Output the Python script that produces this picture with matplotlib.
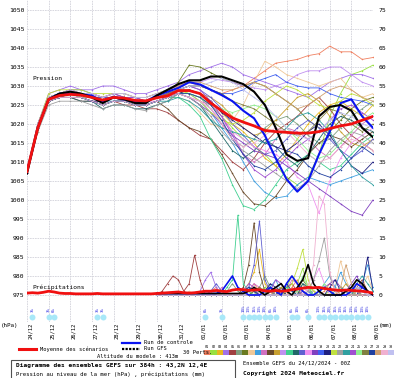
import matplotlib
matplotlib.use("Agg")
import matplotlib.pyplot as plt
from matplotlib.lines import Line2D
from matplotlib.patches import Rectangle
import numpy as np

# time axes (hours since 24/12/2024 00Z)
hours_p = list(range(0, 385, 12))
hours_6h = list(range(0, 385, 6))
hours_rr = list(range(144, 385, 6))

dates = ["24/12", "25/12", "26/12", "27/12", "28/12", "29/12", "30/12", "31/12", "01/01",
         "02/01", "03/01", "04/01", "05/01", "06/01", "07/01", "08/01", "09/01"]

# sea level pressure (hPa)
mean_pres = [1007.5, 1019, 1026.5, 1027.5, 1027.8, 1027.6, 1027, 1026.3, 1027, 1026.8, 1026.2,
             1026.1, 1026.9, 1027.4, 1028.8, 1028.8, 1028, 1025.5, 1023.5, 1021.6, 1020.5, 1019.5,
             1018.3, 1018, 1017.8, 1017.6, 1017.6, 1018, 1018.8, 1019.5, 1020, 1021, 1022]
ctrl_pres = [1007.5, 1019, 1026.5, 1028, 1028, 1027.8, 1027.5, 1026, 1027.2, 1026.5, 1026, 1026,
             1027.5, 1028.5, 1029.5, 1031, 1030.4, 1029, 1027.6, 1026, 1023.5, 1021.5, 1017, 1011,
             1005.5, 1002.2, 1005, 1012, 1018, 1025.5, 1026.5, 1022, 1019]
gfs_pres = [1007, 1019, 1026.5, 1028, 1028.5, 1028, 1027, 1025.5, 1027, 1026.5, 1025.5, 1025.5,
            1027.5, 1029, 1030.5, 1031.5, 1031.5, 1032.5, 1032.5, 1031.5, 1030.5, 1028.5, 1025,
            1019, 1012, 1010.3, 1011, 1022, 1024.5, 1025, 1023.5, 1019, 1016.5]

member_pres = [
    [1008, 1020, 1027, 1028, 1029, 1028, 1028, 1027, 1028, 1027, 1027, 1026, 1027, 1028, 1030, 1031, 1030, 1029, 1028, 1029, 1030, 1032, 1034, 1036, 1036.5, 1037, 1038, 1038.5, 1040.5, 1039, 1039, 1037, 1037.5],
    [1007, 1019, 1027, 1028, 1028, 1028, 1027, 1026, 1027, 1027, 1026, 1026, 1027, 1028, 1029, 1028, 1027, 1025, 1022, 1019, 1016, 1014, 1012, 1009, 1006, 1004, 1006, 1012, 1022, 1028, 1033, 1034, 1035.5],
    [1008, 1018, 1026, 1027, 1027, 1027, 1026, 1025, 1026, 1026, 1025, 1025, 1026, 1027, 1028, 1029, 1028, 1026, 1023, 1020, 1018, 1015, 1011, 1009, 1012, 1016, 1020, 1023, 1025, 1026, 1024, 1022, 1025],
    [1007, 1020, 1028, 1029, 1030, 1029, 1029, 1030, 1030, 1029, 1028, 1028, 1029, 1030, 1031, 1033, 1034, 1035, 1036, 1035, 1033, 1032, 1031, 1030, 1029, 1028, 1027, 1029, 1031, 1032, 1033, 1033, 1032],
    [1008, 1019, 1026, 1027, 1027, 1026, 1026, 1025, 1026, 1025, 1025, 1024, 1024, 1023, 1021, 1019, 1017, 1016, 1013, 1010, 1008, 1011, 1015, 1018, 1020, 1022, 1025, 1027, 1024, 1020, 1017, 1015, 1013],
    [1007, 1019, 1026, 1027, 1028, 1027, 1027, 1026, 1027, 1027, 1026, 1026, 1027, 1027, 1028, 1028, 1027, 1024, 1020, 1016, 1014, 1016, 1019, 1021, 1022, 1020, 1017, 1015, 1016, 1019, 1022, 1024, 1026],
    [1008, 1019, 1027, 1028, 1028, 1028, 1027, 1027, 1027, 1027, 1026, 1026, 1027, 1028, 1031, 1035.5, 1035, 1033.5, 1032, 1031, 1030, 1031, 1030, 1028, 1026, 1024, 1021, 1019, 1018, 1021, 1024, 1026, 1027],
    [1008, 1020, 1027, 1028, 1028, 1027, 1027, 1026, 1027, 1027, 1026, 1026, 1027, 1027, 1027, 1026, 1023, 1020, 1019, 1021, 1025, 1031, 1036.5, 1035, 1033, 1032, 1031, 1030, 1031, 1032, 1029, 1027, 1028],
    [1007, 1019, 1026, 1027, 1028, 1027, 1027, 1026, 1026, 1026, 1026, 1025, 1026, 1027, 1028, 1028, 1026, 1023, 1019, 1015, 1010, 1005, 1002, 1000.5, 1001, 1004, 1006, 1005, 1004, 1005, 1006, 1007, 1008],
    [1008, 1019, 1027, 1028, 1028, 1028, 1027, 1026, 1027, 1027, 1026, 1026, 1027, 1028, 1028, 1027, 1026, 1025, 1022, 1018, 1012, 1010, 1012, 1016, 1019, 1018, 1016, 1013, 1011, 1014, 1017, 1020, 1022],
    [1008, 1019, 1026, 1027, 1027, 1027, 1026, 1026, 1027, 1026, 1025, 1025, 1026, 1024, 1021, 1019, 1018, 1016, 1012, 1007, 1002, 999, 998.5, 1001, 1005, 1008, 1012, 1015, 1017, 1016, 1014, 1016, 1018],
    [1008, 1020, 1027, 1028, 1028, 1028, 1027, 1026, 1027, 1027, 1026, 1026, 1027, 1028, 1029, 1029, 1028, 1027, 1025, 1022, 1019, 1017, 1018, 1021, 1024, 1027, 1028, 1026, 1022, 1018, 1015, 1014, 1016],
    [1007, 1020, 1027, 1028, 1029, 1028, 1028, 1027, 1028, 1028, 1027, 1027, 1028, 1029, 1030, 1031, 1031, 1032, 1031.5, 1031, 1030, 1029.5, 1029, 1030, 1031, 1033, 1034, 1034, 1035, 1035, 1033, 1031, 1030],
    [1007, 1019, 1026, 1027, 1027, 1027, 1026, 1025, 1026, 1026, 1025, 1025, 1026, 1027, 1027, 1025, 1022, 1016, 1011, 1004, 998.5, 997.5, 1000, 1004, 1008, 1010, 1012, 1010, 1008, 1009, 1012, 1015, 1017],
    [1008, 1019, 1026, 1027, 1027, 1026, 1026, 1024, 1025, 1025, 1024, 1024, 1025, 1026, 1028, 1027, 1025, 1021, 1017, 1013, 1011, 1013, 1016, 1014, 1011, 1009, 1012, 1016, 1020, 1022, 1021, 1019, 1018],
    [1007, 1020, 1027, 1028, 1029, 1029, 1028, 1027, 1028, 1027, 1027, 1026, 1027, 1028, 1029, 1030, 1029, 1027, 1024, 1020, 1017, 1014, 1012, 1013, 1016, 1019, 1021, 1019, 1016, 1013, 1011, 1013, 1016],
    [1008, 1019, 1027, 1028, 1028, 1027, 1027, 1026, 1027, 1027, 1026, 1026, 1026, 1027, 1028, 1027, 1026, 1024, 1021, 1018, 1016, 1014, 1013, 1012, 1010, 1006, 1004, 996.5, 1005, 1011, 1015, 1017, 1019],
    [1007, 1019, 1026, 1027, 1028, 1027, 1026, 1026, 1027, 1026, 1026, 1025, 1026, 1027, 1028, 1027, 1025, 1023, 1020, 1017, 1015, 1013, 1012, 1011, 1009, 1007, 1005, 1003, 1001, 999, 997, 996, 1000],
    [1008, 1020, 1027, 1028, 1028, 1028, 1027, 1027, 1027, 1027, 1026, 1026, 1027, 1028, 1029, 1030, 1030, 1029, 1028, 1028, 1029, 1031, 1032, 1033, 1031, 1030, 1029.5, 1029.5, 1028, 1027, 1026.5, 1026, 1025],
    [1007, 1019, 1026, 1027, 1027, 1027, 1026, 1025, 1026, 1026, 1025, 1025, 1026, 1027, 1028, 1029, 1028, 1026, 1023, 1021, 1019, 1017, 1015, 1014, 1013, 1015, 1018, 1020, 1017, 1013, 1009, 1007, 1010],
    [1008, 1020, 1028, 1029, 1029, 1029, 1028, 1028, 1028, 1028, 1027, 1027, 1028, 1029, 1029, 1028, 1026, 1023, 1021, 1020, 1021, 1023, 1026, 1028, 1030, 1029, 1027, 1025, 1024, 1026, 1028, 1027, 1025],
    [1007, 1018, 1025, 1026, 1026, 1026, 1025, 1024, 1025, 1025, 1024, 1023.5, 1025, 1026, 1028, 1027, 1025, 1022, 1018, 1015, 1013, 1011, 1009, 1007, 1005, 1003, 1005, 1009, 1013, 1016, 1018, 1017, 1015],
    [1008, 1019, 1026, 1027, 1027, 1027, 1026, 1025, 1026, 1026, 1025, 1025, 1026, 1026, 1027, 1026, 1024, 1021, 1019, 1018, 1017, 1016, 1015, 1016, 1019, 1022, 1023, 1021, 1018, 1013, 1009, 1006, 1004],
    [1007, 1020, 1027, 1028, 1029, 1028, 1028, 1027, 1028, 1027, 1027, 1026, 1027, 1028, 1029, 1030, 1029, 1026, 1022, 1017, 1012, 1008, 1006, 1008, 1011, 1014, 1016, 1018, 1021, 1024, 1025, 1023, 1021],
    [1008, 1019, 1027, 1028, 1028, 1027, 1027, 1026, 1027, 1027, 1026, 1026, 1027, 1027, 1028, 1028, 1027, 1025, 1024, 1023, 1024, 1025, 1024, 1022, 1019, 1016, 1013, 1011, 1012, 1015, 1018, 1021, 1023],
    [1007, 1019, 1026, 1027, 1028, 1028, 1027, 1026, 1027, 1027, 1026, 1026, 1027, 1028, 1029, 1030, 1030, 1029, 1028, 1026, 1025, 1024, 1022, 1020, 1018, 1017, 1018, 1021, 1024, 1023, 1020, 1018, 1020],
    [1008, 1019, 1026, 1027, 1027, 1027, 1026, 1025, 1026, 1026, 1025, 1025, 1026, 1027, 1028, 1028, 1027, 1025, 1021, 1016, 1012, 1009, 1008, 1010, 1013, 1012, 1009, 1007, 1006, 1008, 1011, 1014, 1012],
    [1008, 1020, 1027, 1028, 1029, 1028, 1028, 1027, 1028, 1028, 1027, 1027, 1028, 1029, 1030, 1031, 1031, 1030, 1029, 1029, 1030, 1031, 1030, 1028, 1026, 1024, 1025, 1027, 1029, 1030, 1029, 1027, 1026],
    [1007, 1019, 1026, 1027, 1027, 1027, 1026, 1025, 1026, 1026, 1025, 1025, 1026, 1027, 1028, 1027, 1026, 1024, 1020, 1016, 1014, 1015, 1017, 1019, 1018, 1015, 1012, 1010, 1011, 1014, 1016, 1015, 1013],
    [1008, 1020, 1027, 1028, 1029, 1028, 1028, 1027, 1028, 1028, 1027, 1027, 1028, 1029, 1029, 1030, 1030, 1031, 1032, 1031, 1029, 1027, 1025, 1022, 1019, 1017, 1016, 1018, 1021, 1023, 1022, 1020, 1019],
]

# precipitation (mm per 6h)
mean_precip = [0.5, 0.6, 0.5, 0.7, 1.0, 0.8, 0.5, 0.4,
               0.4, 0.3, 0.3, 0.3, 0.3, 0.4, 0.3, 0.3,
               0.3, 0.3, 0.3, 0.3, 0.3, 0.3, 0.3, 0.3,
               0.4, 0.5, 0.6, 0.7, 0.8, 0.6, 0.5, 0.6,
               0.8, 1.0, 1.0, 1.2, 1.0, 0.9, 1.3, 1.5,
               1.4, 1.2, 1.3, 1.4, 1.1, 1.0, 1.2, 1.0,
               1.1, 1.4, 1.6, 1.8, 2.0, 1.9, 2.0, 1.7,
               1.5, 1.3, 1.2, 1.3, 1.2, 1.1, 1.0, 0.8,
               0.5]
ctrl_precip = [0.4, 0.4, 0.4, 0.4, 0.4, 0.4, 0.4, 0.4, 0.4, 0.4, 0.4, 0.4, 1, 3, 5, 2, 1, 0, 0, 0, 1, 2, 1, 0, 3, 5, 3, 1, 0, 0, 1, 2, 1, 0, 0, 0, 1, 3, 2, 1, 0]
gfs_precip = [0.4, 0.4, 0.4, 0.4, 0.4, 0.4, 0.4, 0.4, 0.4, 0.4, 0.4, 0.4, 0.4, 0.4, 0.4, 0.4, 0.4, 1, 2, 1, 0, 1, 2, 3, 1, 0, 2, 4, 8, 3, 1, 0, 0, 0, 0, 1, 2, 4, 3, 1, 0]

member_precip = [
    [0, 0, 0, 0, 1, 0, 0, 0, 0, 0, 1, 2, 0, 0, 0, 0, 0, 1, 3, 1, 0, 0, 1, 0, 0, 2, 4, 1, 0, 0, 0, 1, 3, 2, 0, 0, 1, 2, 1, 0, 0],
    [0, 0, 0, 0, 0, 0, 0, 0, 0, 0, 0, 0, 0, 0, 0, 0, 0, 0, 0, 1, 2, 1, 0, 0, 2, 5, 3, 7, 2, 1, 0, 0, 1, 0, 0, 0, 0, 1, 0, 0, 0],
    [0, 0, 0, 0, 0, 0, 0, 0, 0, 0, 0, 0, 1, 0, 0, 0, 1, 3, 6, 12, 3, 1, 0, 0, 1, 0, 0, 2, 1, 0, 0, 0, 0, 0, 2, 1, 0, 0, 0, 0, 0],
    [0, 0, 0, 0, 0, 0, 0, 0, 1, 4, 6, 2, 0, 0, 0, 0, 0, 0, 0, 0, 0, 1, 2, 0, 0, 0, 0, 0, 0, 1, 0, 0, 0, 0, 0, 0, 0, 0, 1, 0, 0],
    [0, 1, 3, 5, 4, 1, 3, 10.5, 4, 0, 0, 0, 0, 0, 0, 0, 0, 0, 0, 0, 0, 0, 0, 1, 2, 3, 1, 0, 0, 0, 0, 0, 0, 0, 0, 0, 0, 2, 4, 1, 0],
    [0, 0, 0, 0, 0, 0, 0, 0, 0, 0, 0, 0, 0, 1, 3, 1, 0, 0, 0, 2, 5, 2, 0, 0, 0, 0, 0, 3, 1, 0, 0, 0, 0, 0, 0, 0, 0, 0, 0, 0, 0],
    [0, 0, 0, 0, 0, 0, 0, 0, 0, 0, 0, 0, 0, 0, 0, 0, 0, 0, 1, 2, 0, 0, 0, 0, 0, 0, 1, 4, 2, 0, 0, 0, 0, 0, 0, 0, 0, 0, 0, 0, 0],
    [0, 0, 0, 0, 0, 0, 1, 0, 0, 0, 0, 0, 0, 0, 0, 0, 0, 0, 0, 0, 0, 0, 0, 0, 0, 0, 0, 1, 3, 1, 0, 0, 0, 2, 9, 4, 1, 0, 2, 5, 1],
    [0, 0, 0, 0, 0, 0, 0, 0, 0, 0, 0, 0, 0, 0, 0, 0, 0, 0, 0, 0, 0, 2, 4, 1, 0, 0, 0, 0, 1, 0, 0, 3, 5, 2, 6, 3, 1, 0, 3, 8, 2],
    [0, 0, 0, 0, 0, 0, 0, 0, 0, 0, 0, 0, 2, 0, 0, 0, 0, 1, 3, 2, 0, 0, 0, 0, 1, 4, 3, 0, 0, 0, 0, 0, 0, 0, 0, 0, 0, 0, 0, 0, 0],
    [0, 0, 0, 0, 0, 0, 0, 0, 0, 0, 0, 0, 0, 0, 0, 0, 2, 8, 19, 6, 1, 0, 0, 2, 0, 0, 0, 0, 0, 0, 0, 0, 0, 0, 0, 0, 0, 0, 0, 0, 0],
    [0, 0, 0, 0, 0, 0, 0, 0, 0, 0, 0, 0, 0, 0, 0, 0, 0, 0, 0, 0, 0, 0, 1, 2, 1, 0, 0, 0, 0, 0, 0, 0, 0, 0, 1, 3, 1, 0, 0, 0, 0],
    [0, 0, 0, 0, 0, 0, 0, 0, 0, 0, 0, 0, 0, 0, 0, 0, 0, 0, 0, 0, 0, 0, 0, 0, 0, 0, 0, 0, 0, 0, 0, 0, 0, 0, 0, 1, 0, 0, 0, 0, 0],
    [0, 0, 0, 0, 0, 0, 0, 0, 0, 0, 0, 0, 0, 2, 4, 21, 3, 1, 0, 0, 0, 0, 0, 0, 2, 1, 0, 0, 0, 0, 0, 0, 0, 0, 0, 0, 0, 0, 0, 0, 0],
    [0, 0, 0, 0, 0, 0, 0, 0, 0, 0, 0, 0, 0, 0, 0, 0, 1, 2, 1, 0, 0, 2, 1, 0, 0, 0, 0, 3, 2, 0, 0, 0, 0, 0, 0, 0, 0, 0, 0, 0, 0],
    [0, 0, 0, 0, 0, 0, 0, 0, 0, 0, 1, 3, 1, 0, 0, 0, 0, 2, 8, 19.5, 4, 1, 0, 0, 0, 0, 0, 1, 0, 0, 0, 0, 0, 0, 0, 0, 0, 0, 0, 0, 0],
    [0, 0, 0, 0, 0, 0, 0, 0, 0, 0, 0, 0, 0, 0, 0, 0, 0, 0, 0, 0, 0, 0, 0, 0, 0, 0, 1, 2, 1, 4, 7, 3, 0, 0, 0, 0, 0, 0, 0, 0, 0],
    [0, 0, 0, 0, 0, 0, 0, 0, 0, 0, 0, 0, 0, 0, 0, 0, 0, 0, 0, 0, 0, 0, 0, 0, 0, 0, 0, 0, 0, 0, 1, 2, 3, 4, 2, 1, 3, 5, 2, 1, 0],
    [0, 0, 0, 0, 0, 0, 0, 0, 0, 0, 0, 0, 0, 0, 0, 0, 0, 0, 0, 0, 0, 0, 0, 1, 0, 0, 0, 0, 0, 0, 0, 0, 0, 0, 0, 0, 0, 0, 0, 0, 0],
    [0, 0, 0, 0, 0, 0, 0, 0, 0, 0, 0, 0, 0, 0, 0, 0, 0, 0, 0, 0, 1, 3, 2, 1, 0, 0, 0, 0, 0, 0, 0, 0, 2, 4, 1, 0, 0, 0, 2, 10, 1],
    [0, 0, 0, 0, 0, 0, 0, 0, 0, 0, 0, 0, 0, 0, 0, 0, 0, 0, 0, 0, 0, 0, 0, 0, 1, 3, 7, 12, 4, 1, 0, 0, 0, 0, 0, 0, 0, 0, 0, 0, 0],
    [0, 0, 0, 0, 0, 0, 0, 0, 0, 0, 0, 0, 0, 0, 0, 0, 0, 0, 0, 0, 0, 1, 2, 0, 0, 0, 0, 0, 1, 4, 9, 15, 5, 1, 0, 0, 0, 1, 3, 1, 0],
    [0, 0, 0, 0, 0, 0, 0, 0, 0, 0, 0, 0, 0, 0, 0, 0, 0, 0, 0, 0, 0, 0, 0, 0, 0, 0, 0, 0, 0, 0, 0, 0, 0, 1, 2, 1, 0, 3, 5, 3, 1],
    [0, 0, 0, 0, 0, 0, 0, 0, 0, 0, 0, 0, 0, 0, 0, 0, 1, 3, 2, 0, 0, 1, 4, 3, 1, 0, 0, 0, 0, 0, 0, 0, 0, 0, 0, 0, 0, 0, 0, 0, 0],
    [0, 0, 0, 0, 0, 0, 0, 0, 0, 0, 0, 0, 0, 0, 0, 0, 0, 0, 0, 0, 0, 0, 0, 0, 0, 0, 1, 5, 2, 0, 1, 3, 1, 0, 0, 0, 0, 0, 0, 0, 0],
    [0, 0, 0, 0, 0, 0, 0, 0, 0, 0, 0, 0, 0, 0, 0, 0, 0, 0, 1, 2, 1, 0, 0, 0, 0, 0, 0, 0, 0, 0, 0, 0, 0, 0, 0, 0, 0, 0, 0, 0, 0],
    [0, 0, 0, 0, 0, 0, 0, 0, 0, 0, 0, 0, 0, 0, 0, 0, 1, 2, 1, 0, 0, 0, 0, 1, 3, 1, 0, 0, 0, 0, 0, 0, 0, 0, 0, 1, 2, 1, 0, 0, 0],
    [0, 0, 0, 0, 0, 0, 0, 0, 0, 0, 0, 0, 0, 0, 0, 0, 0, 0, 0, 0, 0, 0, 0, 0, 0, 0, 0, 0, 0, 0, 0, 0, 0, 0, 2, 8, 3, 1, 0, 0, 0],
    [0, 0, 0, 0, 0, 0, 0, 0, 0, 0, 0, 0, 0, 0, 0, 0, 0, 0, 0, 0, 0, 0, 0, 0, 0, 0, 0, 0, 2, 8, 26, 24, 6, 1, 0, 0, 0, 0, 0, 0, 0],
    [0, 0, 0, 0, 0, 0, 0, 0, 0, 0, 0, 0, 0, 0, 0, 0, 0, 0, 0, 0, 0, 0, 0, 0, 0, 0, 0, 0, 0, 0, 0, 0, 0, 0, 0, 0, 1, 2, 1, 0, 0],
]

member_colors = ["#f08060", "#98e040", "#e8b820", "#a070e8", "#a04040", "#80a080", "#6a7a20",
                 "#f0c898", "#40a0e0", "#d070c0", "#6a4a2a", "#c8a030", "#c090f0", "#40d090",
                 "#206868", "#6060d0", "#f090f0", "#8040c0", "#4060f0", "#202080", "#c0e040",
                 "#a0a0a0", "#30a0a0", "#a050d0", "#90f090", "#808040", "#2040a0", "#d0a070",
                 "#f0b0d0", "#c0c0f0"]

# precipitation probability marks under the chart
prob_hours = [6, 24, 30, 78, 84, 198, 216, 240, 246, 252, 258, 264, 270, 276, 294, 300, 312,
              324, 330, 336, 342, 348, 354, 360, 366, 372, 378]
prob_labels = ["3%", "3%", "6%", "3%", "3%", "6%", "3%", "10%", "13%", "16%", "13%", "10%", "6%",
               "10%", "6%", "10%", "6%", "13%", "16%", "20%", "16%", "13%", "16%", "13%", "10%",
               "13%", "10%"]

W, H = 400, 378
MONO = "DejaVu Sans Mono"


def fx(x):
    return x / W


def fy(y):
    return 1 - y / H


fig = plt.figure(figsize=(W / 100, H / 100), dpi=100)
fig.patch.set_facecolor("white")
ax = fig.add_axes([fx(27), fy(322), 346 / W, 322 / H])
ax.set_xlim(0, 384)
ax.set_ylim(975 - 27 / 3.8, 975 + 295 / 3.8)

ax.set_xticks(range(0, 385, 24))
ax.set_yticks(range(975, 1051, 5))
ax.grid(True, color="#d2d2da", lw=0.6, ls=(0, (2, 1)))
ax.set_axisbelow(True)
ax.tick_params(length=0, labelbottom=False, labelsize=4.6, pad=2)
for lab in ax.get_yticklabels():
    lab.set_family(MONO)
for sp in ax.spines.values():
    sp.set_visible(False)

sec = ax.secondary_yaxis("right", functions=(lambda v: v - 975, lambda v: v + 975))
sec.set_yticks(range(0, 76, 5))
sec.tick_params(length=0, labelsize=4.6, pad=4)
for lab in sec.get_yticklabels():
    lab.set_family(MONO)
for sp in sec.spines.values():
    sp.set_visible(False)

# ensemble members
for p, r, c in zip(member_pres, member_precip, member_colors):
    ax.plot(hours_p, p, color=c, lw=0.6, marker="o", ms=1.1, mew=0, zorder=2)
    ax.plot(hours_rr, 975 + np.array(r), color=c, lw=0.6, marker="o", ms=1.1, mew=0, zorder=2)

ax.plot(hours_p, ctrl_pres, color="#0a14f0", lw=1.5, zorder=4)
ax.plot(hours_rr, 975 + np.array(ctrl_precip), color="#0a14f0", lw=1.2, zorder=4)
ax.plot(hours_p, gfs_pres, color="black", lw=1.5, zorder=4)
ax.plot(hours_rr, 975 + np.array(gfs_precip), color="black", lw=1.2, zorder=4)
ax.plot(hours_p, mean_pres, color="#f01010", lw=2.0, zorder=5)
ax.plot(hours_6h, 975 + np.array(mean_precip), color="#f01010", lw=2.0, zorder=5)

ax.plot(prob_hours, [969.2] * len(prob_hours), "o", color="#a8e8f8", ms=4.3, mew=0,
        zorder=3, clip_on=False)
for h, lab in zip(prob_hours, prob_labels):
    ax.text(h, 970.4, lab, rotation=90, fontsize=3.0, color="#2828e0", family=MONO,
            ha="center", va="bottom", zorder=6)

fig.text(fx(32), fy(79), "Pression", fontsize=4.5, family=MONO, va="center")
fig.text(fx(32), fy(287), "Précipitations", fontsize=4.5, family=MONO, va="center")

for i, d in enumerate(dates):
    fig.text(fx(27 + 21.625 * i + 3.5), fy(323), d, rotation=90, fontsize=4.0, family=MONO,
             ha="center", va="top")
fig.text(fx(1), fy(326), "(hPa)", fontsize=4.2, family=MONO, va="center")
fig.text(fx(379), fy(326), "(mm)", fontsize=4.2, family=MONO, va="center")

# legend
fig.add_artist(Line2D([fx(19), fx(36)], [fy(349), fy(349)], color="#f01010", lw=2.2))
fig.text(fx(40), fy(349), "Moyenne des scénarios", fontsize=3.9, family=MONO, va="center")
fig.add_artist(Line2D([fx(122), fx(140)], [fy(343), fy(343)], color="#0a14f0", lw=1.6))
fig.text(fx(144), fy(343), "Run de controle", fontsize=3.9, family=MONO, va="center")
fig.add_artist(Line2D([fx(122), fx(140)], [fy(349), fy(349)], color="black", lw=1.6,
                      ls=(0, (1, 0.6))))
fig.text(fx(144), fy(349), "Run GFS", fontsize=3.9, family=MONO, va="center")
fig.text(fx(183), fy(352.5), "30 Perts.", fontsize=3.9, family=MONO, va="center")
fig.text(fx(97), fy(357), "Altitude du modele : 413m", fontsize=3.9, family=MONO,
         va="center")

bw = 6.33
for k, c in enumerate(member_colors):
    fig.add_artist(Rectangle((fx(204 + k * bw), fy(355)), bw / W, 5 / H, facecolor=c,
                             edgecolor="none", transform=fig.transFigure))
    fig.text(fx(204 + k * bw + bw / 2), fy(347.5), f"{k + 1:02d}", fontsize=2.5, family=MONO,
             ha="center", va="center")

fig.add_artist(Rectangle((fx(11), fy(381)), 224 / W, 21 / H, fill=False, edgecolor="#505050",
                         lw=0.8, transform=fig.transFigure))
fig.text(fx(16), fy(366), "Diagramme des ensembles GEFS sur 384h : 43,2N 12,4E", fontsize=4.4,
         family=MONO, weight="bold", va="center")
fig.text(fx(16), fy(374), "Pression au niveau de la mer (hPa) , précipitations (mm)",
         fontsize=4.1, family=MONO, va="center")
fig.text(fx(243), fy(363), "Ensemble GEFS du 24/12/2024 - 00Z", fontsize=3.9, family=MONO,
         va="center")
fig.text(fx(243), fy(373), "Copyright 2024 Meteociel.fr", fontsize=4.4, family=MONO,
         weight="bold", va="center")

fig.savefig("out.png", dpi=100)
